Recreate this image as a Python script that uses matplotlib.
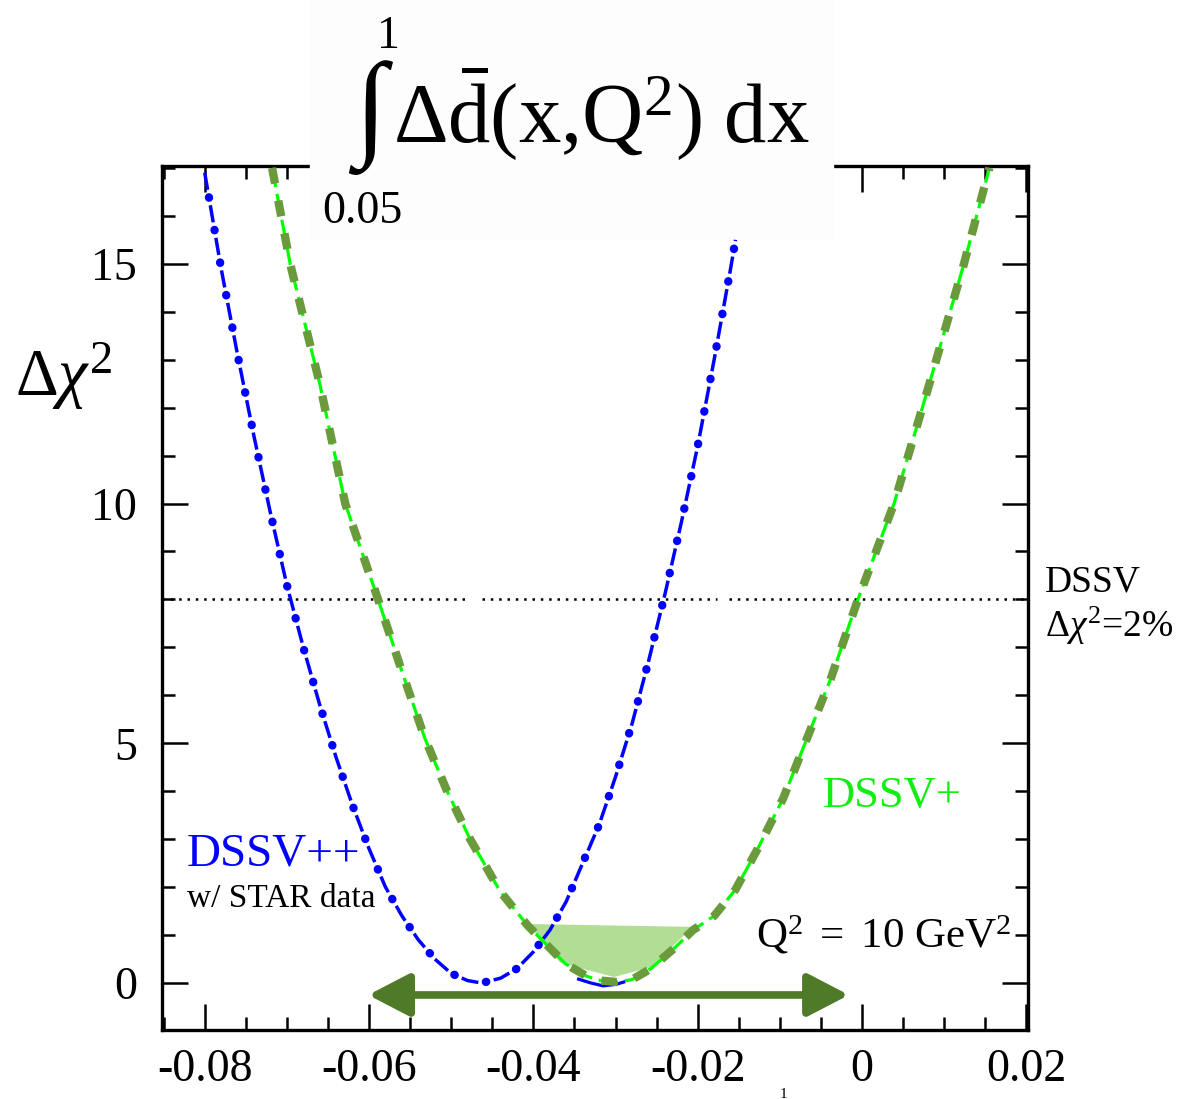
import numpy as np
import matplotlib
matplotlib.use('Agg')
import matplotlib.pyplot as plt
from matplotlib.patches import Rectangle, FancyArrowPatch
from matplotlib.ticker import MultipleLocator

plt.rcParams['font.family'] = ['Liberation Serif', 'DejaVu Serif']
plt.rcParams['mathtext.fontset'] = 'custom'
plt.rcParams['mathtext.rm'] = 'Liberation Serif'
plt.rcParams['mathtext.it'] = 'Liberation Serif:italic'
plt.rcParams['lines.scale_dashes'] = False

# DSSV++ (w/ STAR data) chi2 profile
x_pp = [-0.0800, -0.0780, -0.0760, -0.0740, -0.0720, -0.0700, -0.0680, -0.0660,
        -0.0640, -0.0620, -0.0600, -0.0580, -0.0560, -0.0540, -0.0520, -0.0500,
        -0.0480, -0.0463, -0.0440, -0.0420, -0.0400, -0.0380, -0.0360, -0.0340,
        -0.0320, -0.0300, -0.0280, -0.0260, -0.0240, -0.0220, -0.0200, -0.0180,
        -0.0160, -0.0154]
y_pp = [16.9, 14.9, 13.1, 11.4, 9.8, 8.3, 7.0, 5.8,
        4.7, 3.7, 2.8, 2.0, 1.4, 0.9, 0.5, 0.2,
        0.05, 0.0, 0.1, 0.3, 0.65, 1.1, 1.7, 2.5,
        3.3, 4.3, 5.4, 6.7, 8.1, 9.6, 11.2, 13.0,
        14.9, 15.5]

# DSSV (solid, mostly hidden under DSSV+)
x_dssv = [-0.0345, -0.0330, -0.0315, -0.0300, -0.0290]
y_dssv = [0.08, 0.0, -0.06, -0.03, 0.02]

# DSSV+ chi2 profile
x_p = [-0.0718, -0.0696, -0.0660, -0.0629, -0.0589, -0.0560, -0.0532, -0.0505,
       -0.0477, -0.0440, -0.0407, -0.0361, -0.0335, -0.0318, -0.0298, -0.0280,
       -0.0257, -0.0227, -0.0206, -0.0180, -0.0154, -0.0127, -0.0096, -0.0074,
       -0.0038, -0.0005, 0.0039, 0.0082, 0.0124, 0.0155]
y_p = [17.0, 15.0, 12.5, 10.0, 8.0, 6.5, 5.1, 4.0,
       3.0, 1.9, 1.2, 0.4, 0.14, 0.05, 0.02, 0.07,
       0.3, 0.75, 1.1, 1.4, 1.95, 2.8, 3.85, 4.8,
       6.35, 8.0, 10.0, 12.5, 15.0, 17.0]

# shaded band near the DSSV+ minimum
fill_x = [-0.0407, -0.0367, -0.0302, -0.0257, -0.0206]
fill_y = [1.23, 0.42, 0.125, 0.33, 1.17]

# DSSV tolerance level and its gaps
tol = 8.0
tol_segments = [(-0.0852, -0.0481), (-0.0462, -0.0176), (-0.0162, 0.0202)]

# range arrow
arrow_x = (-0.0601, -0.0016)
arrow_y = -0.25

fig = plt.figure(figsize=(11.78, 10.99), dpi=100)
ax = fig.add_axes([0.1375, 0.0628, 0.7352, 0.7862])
ax.set_xlim(-0.0852, 0.0202)
ax.set_ylim(-0.98, 17.04)

# tolerance line
for a, b in tol_segments:
    ax.plot([a, b], [tol, tol], color='black', lw=1.8, dashes=(1.8, 4.2),
            dash_capstyle='butt', zorder=2)

ax.fill(fill_x, fill_y, color='#b2dd94', lw=0, zorder=3)

ax.plot(x_dssv, y_dssv, color='#0000ff', lw=2.3, zorder=3)

# blue dash-dot: thin dashes, bigger round dots in the gaps
ax.plot(x_pp, y_pp, color='#0000ff', lw=2.5, linestyle=(0, (12.5, 11.3)),
        dash_capstyle='butt', zorder=4)
ax.plot(x_pp, y_pp, color='#0000ff', lw=6.0, linestyle=(-18.0, (0.3, 23.5)),
        dash_capstyle='round', zorder=4)

# DSSV+ : thin bright green + thick olive dashes
ax.plot(x_p, y_p, color='#00ff00', lw=2.3, dashes=(14, 5), zorder=5)
ax.plot(x_p, y_p, color='#6a9a3c', lw=6.0, dashes=(11.5, 12.5),
        dash_capstyle='butt', zorder=6)

arr = FancyArrowPatch((arrow_x[0], arrow_y), (arrow_x[1], arrow_y),
                      arrowstyle='<|-|>,head_length=25,head_width=13',
                      mutation_scale=1, color='#4f7a28', lw=5.5,
                      shrinkA=0, shrinkB=0, zorder=7, clip_on=False)
ax.add_patch(arr)

ax.xaxis.set_minor_locator(MultipleLocator(0.005))
ax.yaxis.set_minor_locator(MultipleLocator(1))
ax.set_xticks([-0.08, -0.06, -0.04, -0.02, 0, 0.02])
ax.set_xticklabels(['-0.08', '-0.06', '-0.04', '-0.02', '0', '0.02'])
ax.set_yticks([0, 5, 10, 15])
ax.set_yticklabels(['0', '5', '10', '15'])
ax.tick_params(which='both', direction='in', top=True, right=True, width=1.8)
ax.tick_params(which='major', length=19, labelsize=33)
ax.tick_params(which='minor', length=9.5)
ax.tick_params(axis='x', which='major', pad=13)
ax.tick_params(axis='y', which='major', pad=18)
for s in ax.spines.values():
    s.set_linewidth(2.4)

ax.text(-0.0822, 2.46, 'DSSV++', color='#0000ff', fontsize=34)
ax.text(-0.0822, 1.58, 'w/ STAR data', color='black', fontsize=24)
ax.text(-0.0048, 3.67, 'DSSV+', color='#11ee11', fontsize=32)
ax.text(-0.0129, 0.73, r'$\mathrm{Q^2\ =\ 10\ GeV^2}$', color='black', fontsize=31)

# labels outside the frame
fig.text(1045 / 1178, 1 - 592 / 1099, 'DSSV', fontsize=27)
fig.text(1045 / 1178, 1 - 637 / 1099, r'$\Delta\chi^2$=2%', fontsize=27)
fig.text(15 / 1178, 1 - 396 / 1099, r'$\Delta\chi^2$', fontsize=48)

# title block with its own light background
fig.patches.append(Rectangle((310 / 1178, 1 - 238 / 1099), 523 / 1178, 238 / 1099,
                             transform=fig.transFigure, color='#fdfdfd', zorder=5))
fig.text(354 / 1178, 1 - 144 / 1099, '\u222b', fontsize=84, zorder=6)
fig.text(377 / 1178, 1 - 48 / 1099, '1', fontsize=33, zorder=6)
fig.text(322 / 1178, 1 - 223 / 1099, '0.05', fontsize=33, zorder=6)
fig.text(393 / 1178, 1 - 142 / 1099, r'$\mathrm{\Delta\bar{d}(x{,}Q^2)\ dx}$',
         fontsize=61, zorder=6)
fig.text(780 / 1178, 0.001, '1', fontsize=11)

fig.savefig('out.png', dpi=100)
